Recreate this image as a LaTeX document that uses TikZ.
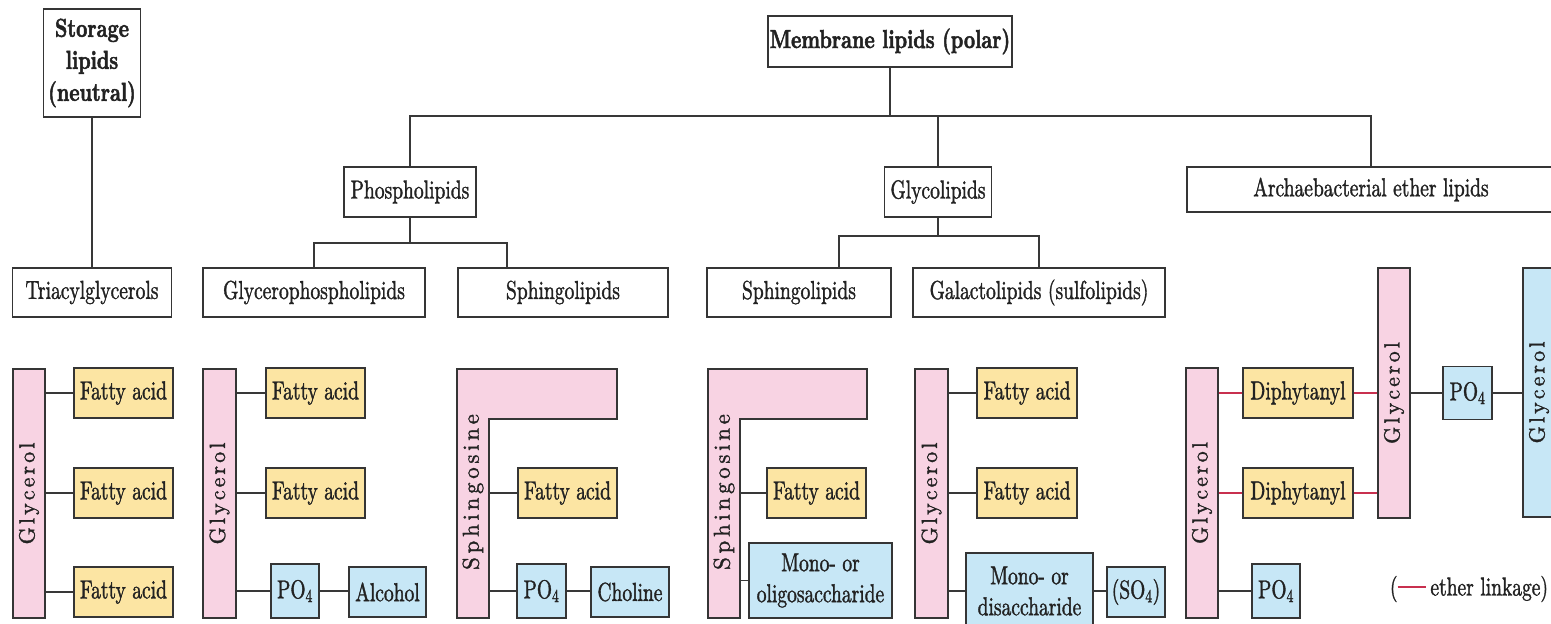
\documentclass[tikz,border=0pt]{standalone}
\usepackage{fontspec}
\setmainfont{lmroman10-regular.otf}[FakeStretch=0.75, FakeBold=1.3]
\newfontfamily\bfam{lmroman10-bold.otf}[FakeStretch=0.75, FakeBold=1.8]
\newfontfamily\vfont{lmroman10-regular.otf}[LetterSpace=14, FakeBold=1.3]
\newfontfamily\vfontb{lmroman10-regular.otf}[LetterSpace=16, FakeBold=1.3]
\definecolor{pnk}{HTML}{F8D3E3}
\definecolor{yel}{HTML}{FCE5A3}
\definecolor{blu}{HTML}{C7E7F6}
\definecolor{bordc}{HTML}{353535}
\definecolor{linec}{HTML}{383838}
\definecolor{textc}{HTML}{222222}
\definecolor{ethred}{HTML}{C8304F}
\begin{document}
\begin{tikzpicture}[x=1pt,y=-1pt,
  box/.style={draw=bordc, line width=1.4pt, inner sep=0pt, align=center, text=textc,
    font=\fontsize{26}{30}\selectfont},
  hdr/.style={box, fill=white, minimum height=49pt},
  fa/.style={box, fill=yel, minimum width=99pt, minimum height=50pt},
  bl/.style={box, fill=blu},
  pk/.style={box, fill=pnk},
  vlab/.style={rotate=90, inner sep=0pt, text=textc, font=\fontsize{22}{24}\vfont},
  link/.style={draw=linec, line width=1.8pt},
  ether/.style={draw=ethred, line width=1.8pt}]
\useasboundingbox (0,0) rectangle (1551,624);
\clip (0,0) rectangle (1551,624);
\fill[white] (0,0) rectangle (1551,624);

% ---------- header tree ----------
\node[hdr, minimum width=97pt, minimum height=108pt, font=\fontsize{26}{32}\bfam] (stor) at (92,63) {Storage\\lipids\\(neutral)};
\node[hdr, minimum width=244pt, minimum height=51pt, font=\fontsize{26}{30}\bfam] (mem) at (890,41.5) {Membrane lipids (polar)};
\node[hdr, minimum width=132pt, minimum height=50pt] (phos) at (410,192) {Phospholipids};
\node[hdr, minimum width=107pt, minimum height=50pt] (glyco) at (938,192) {Glycolipids};
\node[hdr, minimum width=368pt, minimum height=45pt] (arch) at (1371,189.5) {Archaebacterial ether lipids};

\node[hdr, minimum width=159pt] (tri) at (92,292.5) {Triacylglycerols};
\node[hdr, minimum width=222pt] (gpl) at (314,292.5) {Glycerophospholipids};
\node[hdr, minimum width=210pt] (sph1) at (563,292.5) {Sphingolipids};
\node[hdr, minimum width=184pt] (sph2) at (799,292.5) {Sphingolipids};
\node[hdr, minimum width=252pt] (gal) at (1039,292.5) {Galactolipids (sulfolipids)};

\coordinate (bus) at (0,116);
\coordinate (pb) at (0,243);
\coordinate (gb) at (0,236);
\coordinate (s1top) at (507,268);
\coordinate (s2top) at (839,268);

\draw[link] (stor.south) -- (tri.north);
\draw[link] (mem.south) -- (mem.south |- bus);
\draw[link] (phos.north) -- (phos.north |- bus) -- (arch.north |- bus) -- (arch.north);
\draw[link] (glyco.north) -- (glyco.north |- bus);
\draw[link] (phos.south) -- (phos.south |- pb);
\draw[link] (gpl.north) -- (gpl.north |- pb) -- (s1top |- pb) -- (s1top);
\draw[link] (glyco.south) -- (glyco.south |- gb);
\draw[link] (s2top) -- (s2top |- gb) -- (gal.north |- gb) -- (gal.north);

% ---------- triacylglycerol ----------
\node[pk, minimum width=32pt, minimum height=249pt] (g1) at (29,493.5) {};
\node[vlab] (g1t) at (g1.center) {Glycerol};
\node[fa] (fa1a) at (123.5,393) {Fatty acid};
\node[fa] (fa1b) at (123.5,493) {Fatty acid};
\node[fa] (fa1c) at (123.5,592) {Fatty acid};
\foreach \n in {fa1a,fa1b,fa1c} \draw[link] (\n.west) -- (\n.west -| g1.east);

% ---------- glycerophospholipid ----------
\node[pk, minimum width=33pt, minimum height=249pt] (g2) at (219.5,493.5) {};
\node[vlab] (g2t) at (g2.center) {Glycerol};
\node[fa] (fa2a) at (315.5,393) {Fatty acid};
\node[fa] (fa2b) at (315.5,493) {Fatty acid};
\node[bl, minimum width=48pt, minimum height=54pt] (po1) at (295,591) {PO\textsubscript{4}};
\node[bl, minimum width=77pt, minimum height=50pt] (alc) at (387.5,592) {Alcohol};
\foreach \n in {fa2a,fa2b,po1} \draw[link] (\n.west) -- (\n.west -| g2.east);
\draw[link] (po1.east) -- (po1.east -| alc.west);

% ---------- sphingophospholipid ----------
\draw[draw=bordc, line width=1.4pt, fill=pnk] (457,369) -- (617,369) -- (617,419) -- (489,419) -- (489,618) -- (457,618) -- cycle;
\coordinate (L1in) at (489,0);
\node[vlab, font=\fontsize{23}{24}\vfontb] (sp1t) at (473,492) {Sphingosine};
\node[fa] (fa3) at (567.5,493) {Fatty acid};
\node[bl, minimum width=49pt, minimum height=54pt] (po2) at (541.5,591) {PO\textsubscript{4}};
\node[bl, minimum width=78pt, minimum height=50pt] (cho) at (630,592) {Choline};
\draw[link] (fa3.west) -- (fa3.west -| L1in);
\draw[link] (po2.west) -- (po2.west -| L1in);
\draw[link] (po2.east) -- (po2.east -| cho.west);

% ---------- sphingoglycolipid ----------
\draw[draw=bordc, line width=1.4pt, fill=pnk] (708,369) -- (867,369) -- (867,419) -- (740,419) -- (740,618) -- (708,618) -- cycle;
\coordinate (L2in) at (740,0);
\node[vlab, font=\fontsize{23}{24}\vfontb] (sp2t) at (724,492) {Sphingosine};
\node[fa] (fa4) at (816.5,493) {Fatty acid};
\node[bl, minimum width=143pt, minimum height=75pt, font=\fontsize{26}{31}\selectfont] (mono) at (820.5,580.5) {Mono- or\\oligosaccharide};
\draw[link] (fa4.west) -- (fa4.west -| L2in);
\draw[link] (mono.west) -- (mono.west -| L2in);

% ---------- galactolipid ----------
\node[pk, minimum width=33pt, minimum height=249pt] (g3) at (931.5,493.5) {};
\node[vlab] (g3t) at (g3.center) {Glycerol};
\node[fa, minimum width=100pt] (fa5a) at (1027,393) {Fatty acid};
\node[fa, minimum width=100pt] (fa5b) at (1027,493) {Fatty acid};
\node[bl, minimum width=127pt, minimum height=76pt, font=\fontsize{26}{31}\selectfont] (di) at (1029.5,591) {Mono- or\\disaccharide};
\node[bl, minimum width=58pt, minimum height=50pt] (so4) at (1136,592) {(SO\textsubscript{4})};
\foreach \n in {fa5a,fa5b,di} \draw[link] (\n.west) -- (\n.west -| g3.east);
\draw[link] (di.east) -- (di.east -| so4.west);

% ---------- archaebacterial ----------
\node[pk, minimum width=32pt, minimum height=250pt] (g4) at (1202,493) {};
\node[vlab] (g4t) at (g4.center) {Glycerol};
\node[fa, minimum width=110pt] (dip1) at (1298,393) {Diphytanyl};
\node[fa, minimum width=110pt] (dip2) at (1298,493) {Diphytanyl};
\node[pk, minimum width=32pt, minimum height=250pt] (g5) at (1394,393) {};
\node[vlab] (g5t) at (g5.center) {Glycerol};
\node[bl, minimum width=49pt, minimum height=53pt] (po3) at (1467.5,393) {PO\textsubscript{4}};
\node[bl, minimum width=32pt, minimum height=249pt] (g6) at (1539,392.5) {};
\node[vlab] (g6t) at (g6.center) {Glycerol};
\node[bl, minimum width=48pt, minimum height=54pt] (po4) at (1276,591) {PO\textsubscript{4}};
\foreach \n in {dip1,dip2} {
  \draw[ether] (\n.west) -- (\n.west -| g4.east);
  \draw[ether] (\n.east) -- (\n.east -| g5.west);
}
\draw[link] (po4.west) -- (po4.west -| g4.east);
\draw[link] (po3.west) -- (po3.west -| g5.east);
\draw[link] (po3.east) -- (po3.east -| g6.west);

\node[inner sep=0pt, text=textc, font=\fontsize{26}{30}\selectfont] (eth) at (1469,589) {(\textcolor{ethred}{\rule[0.28em]{1.1em}{1.8pt}}\,ether linkage)};
\end{tikzpicture}
\end{document}
